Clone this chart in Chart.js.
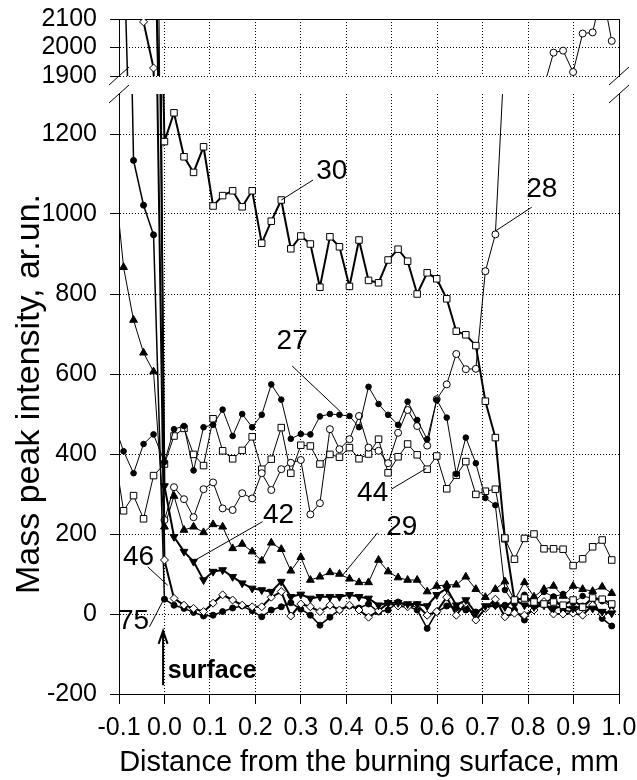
<!DOCTYPE html>
<html>
<head>
<meta charset="utf-8">
<script src="https://cdn.jsdelivr.net/npm/chart.js@4"></script>
<style>
  html, body { margin: 0; padding: 0; background: #fff; }
  #wrap { position: relative; width: 637px; height: 780px; }
  #wrap canvas { position: absolute; left: 0; top: 0; }
</style>
</head>
<body>
<div id="wrap">
  <canvas id="mainChart" width="637" height="780"></canvas>
  <canvas id="topChart" width="637" height="780"></canvas>
</div>
<script>
// distance from the burning surface, mm
const dist = [-0.112, -0.090, -0.068, -0.046, -0.024,
  0.000, 0.021, 0.043, 0.064, 0.086, 0.107, 0.128, 0.150, 0.171, 0.193,
  0.214, 0.235, 0.257, 0.278, 0.300, 0.321, 0.342, 0.364, 0.385, 0.407,
  0.428, 0.449, 0.471, 0.492, 0.514, 0.535, 0.556, 0.578, 0.599, 0.621,
  0.642, 0.663, 0.685, 0.706, 0.728, 0.749, 0.770, 0.792, 0.813, 0.835,
  0.856, 0.877, 0.899, 0.920, 0.942, 0.963, 0.984];

const xTicks = [-0.1, 0, 0.1, 0.2, 0.3, 0.4, 0.5, 0.6, 0.7, 0.8, 0.9, 1.0];
const yTicksMain = [-200, 0, 200, 400, 600, 800, 1000, 1200];
const yTicksTop = [1900, 2000, 2100];

// mass peak intensities, ar.un.
const m27 = [480, 407, 352, 425, 449,
  380, 462, 470, 359, 467, 473, 511, 445, 500, 467,
  498, 574, 536, 438, 450, 449, 494, 500, 498, 495,
  467, 568, 525, 498, 473, 531, 485, 437, 535, 491,
  350, 441, 377, 290, 272, 60, 25, 48, 30, 55,
  43, 50, 28, 45, 39, 32, 18];
const m28 = [null, null, null, null, 4000,
  235, 317, 287, 242, 312, 329, 264, 260, 302, 289,
  352, 310, 362, 378, 385, 249, 277, 462, 412, 437,
  495, 416, 408, 377, 453, 510, 470, 421, 537, 574,
  650, 612, 613, 857, 949, 1420, 1650, 1750, 1820, 1863,
  1982, 1989, 1914, 2049, 2053, 2200, 2023];
const m29 = [1120, 867, 735, 653, 606,
  218, 295, 210, 218, 204, 224, 218, 164, 175, 156,
  133, 178, 162, 108, 142, 85, 93, 104, 100, 88,
  79, 79, 135, 106, 91, 85, 85, 56, 70, 73,
  73, 93, 62, 42, 62, 81, 35, 79, 43, 62,
  70, 45, 70, 62, 57, 68, 52];
const m30 = [null, null, null, null, 2500,
  1181, 1253, 1143, 1104, 1168, 1020, 1046, 1058, 1018, 1058,
  927, 982, 1035, 913, 945, 925, 817, 943, 918, 819,
  935, 834, 828, 885, 912, 882, 800, 853, 838, 788,
  707, 698, 671, 532, 441, 190, 35, 40, 30, 25,
  30, 22, 35, 17, 40, 37, 25];
const m42 = [null, null, null, null, 3000,
  320, 193, 156, 131, 85, 106, 110, 93, 77, 64,
  60, 56, 81, 43, 49, 39, 43, 43, 43, 48,
  43, 39, 22, 28, 28, 25, 25, 20, 48, 64,
  22, 35, 2, 20, 22, 18, 35, 22, 18, 22,
  14, 20, 14, 20, 14, 6, 2];
const m44 = [420, 258, 296, 238, 346,
  375, 445, 464, 399, 371, 488, 408, 388, 409, 443,
  362, 387, 466, 352, 422, 420, 375, 399, 392, 416,
  388, 400, 437, 353, 393, 425, 398, 362, 395, 313,
  347, 381, 299, 307, 312, 188, 137, 189, 200, 163,
  163, 162, 121, 138, 168, 185, 135];
const m46 = [null, null, null, 2090, 1928,
  135, 39, 22, 14, 6, 27, 48, 35, 22, 18,
  18, 42, 56, -5, 25, 18, 6, 22, 10, 22,
  10, -8, 8, 27, 20, 18, 22, -3, 6, 42,
  -3, 27, -15, 14, 37, -7, 2, -3, 10, 31,
  0, 0, 2, -3, 22, 0, 6];
const m75 = [null, 2400, 1134, 1022, 948,
  37, 22, 14, 4, -5, -3, 6, 15, 20, 8,
  -7, 10, 18, 28, 12, -3, -28, -8, 10, 20,
  15, 25, 5, 10, 30, 20, 10, -36, 5, 20,
  15, 10, 5, 15, 22, 22, 10, -15, 20, 25,
  43, 10, 5, 20, 39, -11, -30];

// curve labels with leader lines (data coordinates)
const callouts = [
  { text: '30', at: [0.368, 1107], from: [0.327, 1085], to: [0.257, 1035] },
  { text: '28', at: [0.830, 1062], from: [0.808, 1017], to: [0.729, 958] },
  { text: '27', at: [0.281, 682], from: [0.281, 620], to: [0.387, 506] },
  { text: '42', at: [0.251, 247], from: [0.216, 231], to: [0.062, 131] },
  { text: '29', at: [0.522, 217], from: [0.469, 203], to: [0.392, 97] },
  { text: '44', at: [0.458, 302], from: [0.499, 312], to: [0.576, 364] },
  { text: '46', at: [-0.057, 142], from: [-0.037, 118], to: [0.007, 72] },
  { text: '75', at: [-0.068, -18], from: [-0.033, -32], to: [-0.004, 31] },
];

const FONT = '"Liberation Sans", Arial, sans-serif';

const toPoints = (vals) => dist.map((x, i) => ({ x, y: vals[i] })).filter(p => p.y !== null);

const series = (label, vals, style) => ({
  label,
  data: toPoints(vals),
  borderColor: '#000',
  pointBorderColor: '#000',
  pointBorderWidth: 1,
  tension: 0,
  clip: 0,
  ...style
});

const makeDatasets = () => [
  series('30', m30, { borderWidth: 2, pointStyle: 'rect', pointRadius: 4.6, pointBackgroundColor: '#fff' }),
  series('42', m42, { borderWidth: 2, pointStyle: 'triangle', pointRotation: 180, pointRadius: 4.5, pointBackgroundColor: '#000' }),
  series('46', m46, { borderWidth: 2, pointStyle: 'rectRot', pointRadius: 4, pointBackgroundColor: '#fff' }),
  series('75', m75, { borderWidth: 1.5, pointStyle: 'circle', pointRadius: 3, pointBackgroundColor: '#000' }),
  series('27', m27, { borderWidth: 1, pointStyle: 'circle', pointRadius: 2.8, pointBackgroundColor: '#000' }),
  series('28', m28, { borderWidth: 1, pointStyle: 'circle', pointRadius: 3.5, pointBackgroundColor: '#fff' }),
  series('29', m29, { borderWidth: 1, pointStyle: 'triangle', pointRadius: 4.5, pointBackgroundColor: '#000' }),
  series('44', m44, { borderWidth: 1, pointStyle: 'rect', pointRadius: 4.6, pointBackgroundColor: '#fff' }),
];

// fix an axis box to a given size and drop the label overhang padding
const fixSize = (prop, size) => (s) => {
  s[prop] = size;
  s.paddingLeft = 0;
  s.paddingRight = 0;
  s.paddingTop = 0;
  s.paddingBottom = 0;
};

const plainEdge = (id, axis, position, size) => ({
  [id]: {
    type: 'linear', axis, position,
    min: axis === 'x' ? -0.1 : 0, max: axis === 'x' ? 1.0 : 1,
    ticks: { display: false },
    grid: { display: false },
    border: { display: true, color: '#000', width: 1 },
    afterFit: fixSize(axis === 'x' ? 'height' : 'width', size)
  }
});

const plainLabel = (v) => String(v);

// upper part of the broken axis
const topChart = new Chart(document.getElementById('topChart'), {
  type: 'line',
  data: { datasets: makeDatasets() },
  options: {
    responsive: false,
    animation: false,
    events: [],
    layout: { padding: 0, autoPadding: false },
    scales: {
      x: {
        type: 'linear', min: -0.1, max: 1.0,
        afterBuildTicks: (s) => { s.ticks = xTicks.map(v => ({ value: v })); },
        afterFit: fixSize('height', 704),
        ticks: { display: false },
        grid: { color: '#000', drawTicks: false },
        border: { display: false, dash: [1, 2] }
      },
      y: {
        min: 1900, max: 2100,
        afterBuildTicks: (s) => { s.ticks = yTicksTop.map(v => ({ value: v })); },
        afterFit: fixSize('width', 119),
        ticks: {
          color: '#000', padding: 13, autoSkip: false,
          font: { family: FONT, size: 25, lineHeight: 1 }, callback: plainLabel
        },
        grid: { color: '#000', tickLength: 9 },
        border: { display: true, color: '#000', dash: [1, 2] }
      },
      ...plainEdge('xTop', 'x', 'top', 19),
      ...plainEdge('yRight', 'y', 'right', 18)
    },
    plugins: { legend: { display: false }, tooltip: { enabled: false } }
  }
});

const decorations = {
  id: 'decorations',
  afterDatasetsDraw(chart) {
    const { ctx, chartArea, scales: { x, y } } = chart;
    ctx.save();
    ctx.strokeStyle = '#000';
    ctx.fillStyle = '#000';
    ctx.lineWidth = 1;
    ctx.font = '28px ' + FONT;
    ctx.textAlign = 'center';
    ctx.textBaseline = 'middle';
    callouts.forEach(c => {
      ctx.beginPath();
      ctx.moveTo(x.getPixelForValue(c.from[0]), y.getPixelForValue(c.from[1]));
      ctx.lineTo(x.getPixelForValue(c.to[0]), y.getPixelForValue(c.to[1]));
      ctx.stroke();
      ctx.fillText(c.text, x.getPixelForValue(c.at[0]), y.getPixelForValue(c.at[1]));
    });

    // surface arrow
    const ax = x.getPixelForValue(-0.003);
    const tip = y.getPixelForValue(-42);
    ctx.lineWidth = 2;
    ctx.beginPath();
    ctx.moveTo(ax, y.getPixelForValue(-178));
    ctx.lineTo(ax, tip);
    ctx.moveTo(ax - 4.5, tip + 13);
    ctx.lineTo(ax, tip);
    ctx.lineTo(ax + 4.5, tip + 13);
    ctx.stroke();
    ctx.font = 'bold 25px ' + FONT;
    ctx.textAlign = 'left';
    ctx.fillText('surface', x.getPixelForValue(0.007), y.getPixelForValue(-142));

    // axis break marks
    ctx.lineWidth = 1;
    const edges = [chartArea.top, topChart.chartArea.bottom];
    [chartArea.left, chartArea.right].forEach(ex => {
      edges.forEach(ey => {
        ctx.beginPath();
        ctx.moveTo(ex - 10, ey + 9);
        ctx.lineTo(ex + 10, ey - 9);
        ctx.stroke();
      });
    });
    ctx.restore();
  }
};

// lower part of the broken axis
new Chart(document.getElementById('mainChart'), {
  type: 'line',
  data: { datasets: makeDatasets() },
  options: {
    responsive: false,
    animation: false,
    events: [],
    layout: { padding: { top: 94 }, autoPadding: false },
    scales: {
      x: {
        type: 'linear', min: -0.1, max: 1.0,
        afterBuildTicks: (s) => { s.ticks = xTicks.map(v => ({ value: v })); },
        afterFit: fixSize('height', 86),
        ticks: {
          color: '#000', padding: 9, maxRotation: 0, autoSkip: false,
          font: { family: FONT, size: 25 },
          callback: (v) => v.toFixed(1)
        },
        grid: { color: '#000', tickLength: 10 },
        border: { display: true, color: '#000', dash: [1, 2] },
        title: {
          display: true, text: 'Distance from the burning surface, mm',
          color: '#000', font: { family: FONT, size: 29 }, padding: { top: 0, bottom: 0 }
        }
      },
      y: {
        min: -200, max: 1300,
        afterBuildTicks: (s) => { s.ticks = yTicksMain.map(v => ({ value: v })); },
        afterFit: fixSize('width', 119),
        ticks: { color: '#000', padding: 13, autoSkip: false, font: { family: FONT, size: 25 }, callback: plainLabel },
        grid: { color: '#000', tickLength: 9 },
        border: { display: true, color: '#000', dash: [1, 2] },
        title: {
          display: true, text: 'Mass peak intensity, ar.un.',
          color: '#000', font: { family: FONT, size: 34 }, padding: { top: 9, bottom: 0 }
        }
      },
      ...plainEdge('yRight', 'y', 'right', 18)
    },
    plugins: { legend: { display: false }, tooltip: { enabled: false } }
  },
  plugins: [decorations]
});
</script>
</body>
</html>
